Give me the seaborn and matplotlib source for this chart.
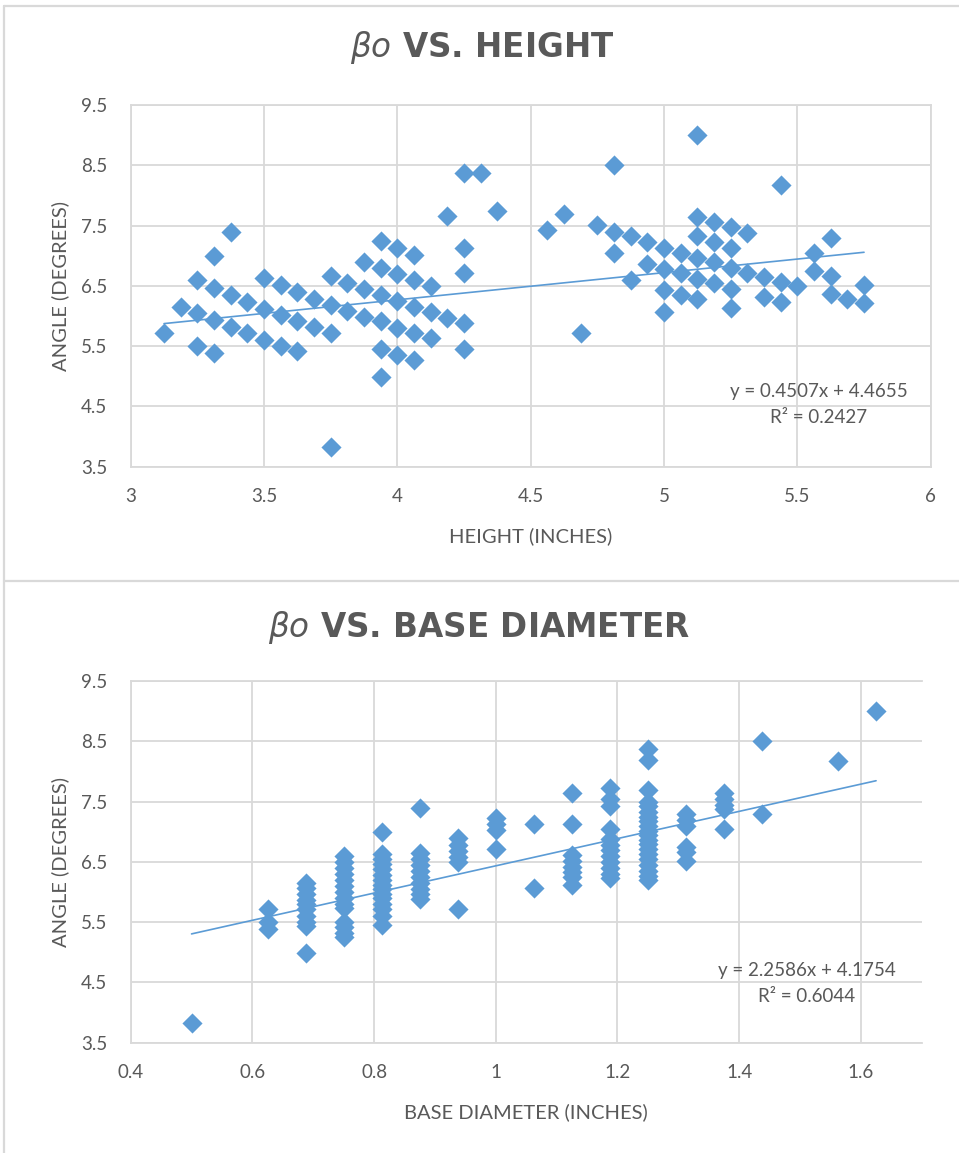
import matplotlib
matplotlib.use("Agg")
import matplotlib.pyplot as plt
import seaborn as sns
import numpy as np
import pandas as pd
from matplotlib.lines import Line2D
from matplotlib.ticker import FuncFormatter

# ---------------- data ----------------
height_in = [3.125, 3.1875, 3.25, 3.25, 3.25, 3.3125, 3.3125, 3.3125, 3.3125,
             3.375, 3.375, 3.375, 3.4375, 3.4375, 3.5, 3.5, 3.5, 3.5625, 3.5625, 3.5625,
             3.625, 3.625, 3.625, 3.6875, 3.6875, 3.75, 3.75, 3.75, 3.75, 3.8125, 3.8125,
             3.875, 3.875, 3.875, 3.9375, 3.9375, 3.9375, 3.9375, 3.9375, 3.9375,
             4.0, 4.0, 4.0, 4.0, 4.0, 4.0625, 4.0625, 4.0625, 4.0625, 4.0625,
             4.125, 4.125, 4.125, 4.1875, 4.1875, 4.25, 4.25, 4.25, 4.25, 4.25,
             4.3125, 4.375, 4.5625, 4.625, 4.6875, 4.75, 4.8125, 4.8125, 4.8125,
             4.875, 4.875, 4.9375, 4.9375, 5.0, 5.0, 5.0, 5.0, 5.0625, 5.0625, 5.0625,
             5.125, 5.125, 5.125, 5.125, 5.125, 5.125, 5.1875, 5.1875, 5.1875, 5.1875,
             5.25, 5.25, 5.25, 5.25, 5.25, 5.3125, 5.3125, 5.375, 5.375,
             5.4375, 5.4375, 5.4375, 5.5, 5.5625, 5.5625, 5.625, 5.625, 5.625,
             5.6875, 5.75, 5.75]
angle_h = [5.72, 6.15, 6.59, 6.05, 5.50, 7.00, 6.46, 5.93, 5.39,
           7.39, 6.35, 5.82, 6.23, 5.71, 6.63, 6.12, 5.61, 6.51, 6.02, 5.50,
           6.39, 5.92, 5.42, 6.29, 5.82, 6.66, 6.19, 5.72, 3.82, 6.55, 6.09,
           6.90, 6.44, 5.99, 7.24, 6.79, 6.35, 5.91, 5.45, 4.99,
           7.13, 6.70, 6.25, 5.80, 5.35, 7.02, 6.59, 6.15, 5.71, 5.27,
           6.49, 6.06, 5.63, 7.66, 5.96, 8.38, 7.13, 6.72, 5.89, 5.46,
           8.38, 7.74, 7.43, 7.70, 5.72, 7.51, 8.50, 7.40, 7.05,
           7.32, 6.59, 7.22, 6.87, 7.13, 6.78, 6.43, 6.07, 7.05, 6.71, 6.35,
           9.01, 7.65, 7.32, 6.97, 6.61, 6.28, 7.56, 7.22, 6.89, 6.54,
           7.47, 7.13, 6.80, 6.45, 6.13, 7.38, 6.72, 6.64, 6.31,
           8.18, 6.56, 6.24, 6.50, 7.05, 6.74, 7.30, 6.66, 6.36,
           6.28, 6.52, 6.21]

base_diam = [0.5,
             0.625, 0.625, 0.625,
             0.6875, 0.6875, 0.6875, 0.6875, 0.6875, 0.6875, 0.6875, 0.6875, 0.6875, 0.6875,
             0.75, 0.75, 0.75, 0.75, 0.75, 0.75, 0.75, 0.75, 0.75, 0.75, 0.75, 0.75, 0.75, 0.75,
             0.8125, 0.8125, 0.8125, 0.8125, 0.8125, 0.8125, 0.8125, 0.8125, 0.8125, 0.8125,
             0.8125, 0.8125, 0.8125, 0.8125, 0.8125,
             0.875, 0.875, 0.875, 0.875, 0.875, 0.875, 0.875, 0.875, 0.875, 0.875,
             0.9375, 0.9375, 0.9375, 0.9375, 0.9375, 0.9375,
             1.0, 1.0, 1.0, 1.0,
             1.0625, 1.0625,
             1.125, 1.125, 1.125, 1.125, 1.125, 1.125, 1.125, 1.125,
             1.1875, 1.1875, 1.1875, 1.1875, 1.1875, 1.1875, 1.1875, 1.1875, 1.1875, 1.1875,
             1.1875, 1.1875,
             1.25, 1.25, 1.25, 1.25, 1.25, 1.25, 1.25, 1.25, 1.25, 1.25,
             1.25, 1.25, 1.25, 1.25, 1.25, 1.25, 1.25, 1.25, 1.25, 1.25,
             1.3125, 1.3125, 1.3125, 1.3125, 1.3125, 1.3125,
             1.375, 1.375, 1.375, 1.375, 1.375,
             1.4375, 1.4375,
             1.5625,
             1.625]
angle_d = [3.82,
           5.72, 5.50, 5.39,
           6.15, 6.06, 5.96, 5.86, 5.80, 5.72, 5.61, 5.50, 5.43, 4.99,
           6.60, 6.50, 6.40, 6.30, 6.20, 6.10, 6.00, 5.90, 5.80, 5.73, 5.50, 5.42, 5.32, 5.25,
           7.00, 6.63, 6.55, 6.46, 6.38, 6.29, 6.20, 6.12, 6.05, 5.97,
           5.90, 5.80, 5.72, 5.61, 5.46,
           7.39, 6.65, 6.55, 6.45, 6.35, 6.25, 6.15, 6.05, 5.97, 5.88,
           6.90, 6.78, 6.68, 6.58, 6.50, 5.72,
           7.22, 7.13, 7.03, 6.72,
           7.13, 6.07,
           7.65, 7.13, 6.61, 6.52, 6.42, 6.33, 6.25, 6.12,
           7.73, 7.55, 7.43, 7.04, 6.88, 6.78, 6.70, 6.60, 6.50, 6.40,
           6.30, 6.24,
           8.38, 8.19, 7.70, 7.50, 7.42, 7.33, 7.25, 7.17, 7.10, 7.02,
           6.95, 6.87, 6.80, 6.72, 6.63, 6.55, 6.45, 6.35, 6.27, 6.20,
           7.30, 7.20, 7.10, 6.74, 6.66, 6.52,
           7.65, 7.55, 7.45, 7.37, 7.04,
           8.50, 7.29,
           8.18,
           9.01]

trend_h = [0.4507, 4.4655, 0.2427]   # slope, intercept, R^2
trend_d = [2.2586, 4.1754, 0.6044]

x_ticks_h = [3, 3.5, 4, 4.5, 5, 5.5, 6]
x_ticks_d = [0.4, 0.6, 0.8, 1.0, 1.2, 1.4, 1.6]
y_ticks = [3.5, 4.5, 5.5, 6.5, 7.5, 8.5, 9.5]

# ---------------- style ----------------
sns.set_theme(style="white")
plt.rcParams["font.family"] = ["Lato", "DejaVu Sans"]
plt.rcParams["mathtext.fontset"] = "dejavusans"

BLUE = "#5B9BD5"
GRID = "#D9D9D9"
TXT = "#595959"
W, H = 959, 1153
TICK_FS = 13.5
LAB_FS = 14.5

fig = plt.figure(figsize=(W / 100, H / 100), dpi=100)
fig.patch.set_facecolor("white")


def rect(x0, y0, x1, y1):
    return [x0 / W, 1 - y1 / H, (x1 - x0) / W, (y1 - y0) / H]


ax1 = fig.add_axes(rect(130.7, 105, 930.7, 466.7))
ax2 = fig.add_axes(rect(130.7, 681, 921.7, 1042.7))

fmt = FuncFormatter(lambda v, _: f"{v:g}")


def style(ax, xlim, xticks, right_spine):
    ax.set_xlim(*xlim)
    ax.set_ylim(3.5, 9.5)
    ax.set_xticks(xticks)
    ax.set_yticks(y_ticks)
    ax.xaxis.set_major_formatter(fmt)
    ax.yaxis.set_major_formatter(fmt)
    ax.grid(True, color=GRID, lw=1.3)
    ax.set_axisbelow(True)
    for name, sp in ax.spines.items():
        sp.set_color(GRID)
        sp.set_linewidth(1.3)
    ax.spines["right"].set_visible(right_spine)
    ax.tick_params(length=0, labelsize=TICK_FS, colors=TXT)
    ax.tick_params(axis="x", pad=15)
    ax.tick_params(axis="y", pad=17)
    ax.set_facecolor("white")


def draw(ax, xs, ys, trend):
    df = pd.DataFrame({"x": xs, "y": ys})
    sns.scatterplot(data=df, x="x", y="y", ax=ax, marker="D", s=105,
                    color=BLUE, linewidth=0, zorder=3)
    xl = np.array([min(xs), max(xs)])
    ax.plot(xl, trend[0] * xl + trend[1], color=BLUE, lw=1.2, zorder=4)


draw(ax1, height_in, angle_h, trend_h)
style(ax1, (3, 6), x_ticks_h, True)
ax1.set_xlabel("HEIGHT (INCHES)", fontsize=LAB_FS, color=TXT, labelpad=16)
ax1.set_ylabel("ANGLE (DEGREES)", fontsize=LAB_FS, color=TXT, labelpad=8)
ax1.text(5.581, 4.74, f"y = {trend_h[0]}x + {trend_h[1]}", ha="center", va="center",
         fontsize=TICK_FS, color=TXT)
ax1.text(5.581, 4.31, f"R² = {trend_h[2]}", ha="center", va="center",
         fontsize=TICK_FS, color=TXT)

draw(ax2, base_diam, angle_d, trend_d)
style(ax2, (0.4, 1.7), x_ticks_d, False)
ax2.set_xlabel("BASE DIAMETER (INCHES)", fontsize=LAB_FS, color=TXT, labelpad=16)
ax2.set_ylabel("ANGLE (DEGREES)", fontsize=LAB_FS, color=TXT, labelpad=8)
ax2.text(1.511, 4.69, f"y = {trend_d[0]}x + {trend_d[1]}", ha="center", va="center",
         fontsize=TICK_FS, color=TXT)
ax2.text(1.511, 4.26, f"R² = {trend_d[2]}", ha="center", va="center",
         fontsize=TICK_FS, color=TXT)

fig.text(0.503, 1 - 48 / H, r"$\beta o$ VS. HEIGHT", ha="center", va="center",
         fontsize=23.5, fontweight="bold", color=TXT, family="DejaVu Sans")
fig.text(0.5, 1 - 627 / H, r"$\beta o$ VS. BASE DIAMETER", ha="center", va="center",
         fontsize=23.5, fontweight="bold", color=TXT, family="DejaVu Sans")

# chart frames
for xs_, ys_ in [([4, 4], [6, H]), ([4, W], [6, 6]), ([4, W], [581, 581])]:
    fig.add_artist(Line2D([v / W for v in xs_], [1 - v / H for v in ys_],
                          transform=fig.transFigure, color=GRID, lw=1.6))

fig.savefig("out.png", dpi=100, facecolor="white")
